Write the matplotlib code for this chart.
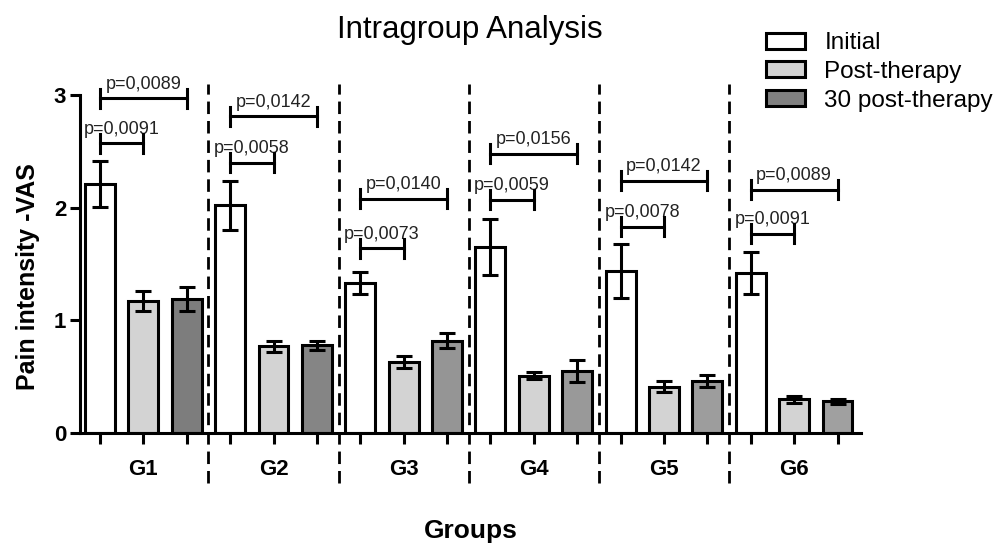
import matplotlib
matplotlib.use('Agg')
import matplotlib.pyplot as plt
import numpy as np

plt.rcParams['font.family'] = ['Liberation Sans', 'DejaVu Sans']

groups = ['G1', 'G2', 'G3', 'G4', 'G5', 'G6']
series = ['Initial', 'Post-therapy', '30 post-therapy']
initial = [2.21, 2.02, 1.33, 1.65, 1.44, 1.42]
initial_err = [0.20, 0.22, 0.10, 0.25, 0.24, 0.19]
post = [1.17, 0.77, 0.63, 0.51, 0.41, 0.30]
post_err = [0.09, 0.05, 0.055, 0.035, 0.05, 0.03]
post30 = [1.19, 0.78, 0.82, 0.55, 0.46, 0.28]
post30_err = [0.11, 0.04, 0.07, 0.095, 0.055, 0.025]

# p-values: (initial vs post, initial vs 30 post) and bracket heights
p_short = ['p=0,0091', 'p=0,0058', 'p=0,0073', 'p=0,0059', 'p=0,0078', 'p=0,0091']
p_long = ['p=0,0089', 'p=0,0142', 'p=0,0140', 'p=0,0156', 'p=0,0142', 'p=0,0089']
y_short = [2.57, 2.40, 1.64, 2.07, 1.83, 1.77]
y_long = [2.97, 2.81, 2.08, 2.48, 2.24, 2.16]

face = ['white', '#d3d3d3', '#8a8a8a']
dark_by_group = ['#7d7d7d', '#858585', '#959595', '#999999', '#9d9d9d', '#a0a0a0']

fig = plt.figure(figsize=(10.03, 5.43), dpi=100)
ax = fig.add_axes([0.0798, 0.2026, 0.779, 0.6224])

lw = 2.2
bw = 0.69
vals = [initial, post, post30]
errs = [initial_err, post_err, post30_err]
for g in range(len(groups)):
    for s in range(3):
        x = g * 3 + s
        fc = face[s] if s < 2 else dark_by_group[g]
        ax.bar(x, vals[s][g], width=bw, color=fc, edgecolor='black', linewidth=lw, zorder=2,
               label=series[s] if g == 0 else None)
        ax.errorbar(x, vals[s][g], yerr=errs[s][g], color='black', elinewidth=lw,
                    capsize=6, capthick=lw, zorder=3, fmt='none')

    # brackets
    for (x0, x1, yb, txt) in [(g * 3, g * 3 + 1, y_short[g], p_short[g]),
                              (g * 3, g * 3 + 2, y_long[g], p_long[g])]:
        ax.plot([x0, x1], [yb, yb], color='black', lw=lw, clip_on=False, zorder=4)
        for xe in (x0, x1):
            ax.plot([xe, xe], [yb - 0.085, yb + 0.085], color='black', lw=lw,
                    clip_on=False, zorder=4)
        ax.text((x0 + x1) / 2, yb + 0.05, txt, ha='center', va='bottom', fontsize=13,
                color='#222222', clip_on=False)

    if g > 0:
        ax.plot([g * 3 - 0.5, g * 3 - 0.5], [-0.44, 3.1], color='black', lw=2.0,
                ls=(0, (4.5, 2.5)), clip_on=False, zorder=1)

ax.set_xlim(-0.46, 17.55)
ax.set_ylim(0, 3)
ax.set_yticks([0, 1, 2, 3])
ax.set_yticklabels(['0', '1', '2', '3'], fontsize=16, fontweight='bold')
ax.set_xticks(np.arange(18))
ax.set_xticklabels([])
ax.tick_params(axis='x', length=8, width=lw, direction='out')
ax.tick_params(axis='y', length=7, width=lw, pad=3)
for i, g in enumerate(groups):
    ax.text(i * 3 + 1, -0.32, g, ha='center', va='center', fontsize=16,
            fontweight='bold', transform=ax.transData)

for sp in ['top', 'right']:
    ax.spines[sp].set_visible(False)
for sp in ['left', 'bottom']:
    ax.spines[sp].set_linewidth(lw)

fig.text(0.028, 0.49, 'Pain intensity -VAS', ha='center', va='center', rotation=90,
         fontsize=18, fontweight='bold')
fig.text(0.469, 0.022, 'Groups', ha='center', va='center', fontsize=19, fontweight='bold')
fig.text(0.468, 0.945, 'Intragroup Analysis', ha='center', va='center', fontsize=22.5)

leg = ax.legend(loc='upper left', bbox_to_anchor=(0.85, 1.25), frameon=False, fontsize=17.5,
                handlelength=1.6, handleheight=0.63, handletextpad=0.8, labelspacing=0.27)
leg.legend_handles[2].set_facecolor('#808080')

fig.savefig('out.png', dpi=100)
